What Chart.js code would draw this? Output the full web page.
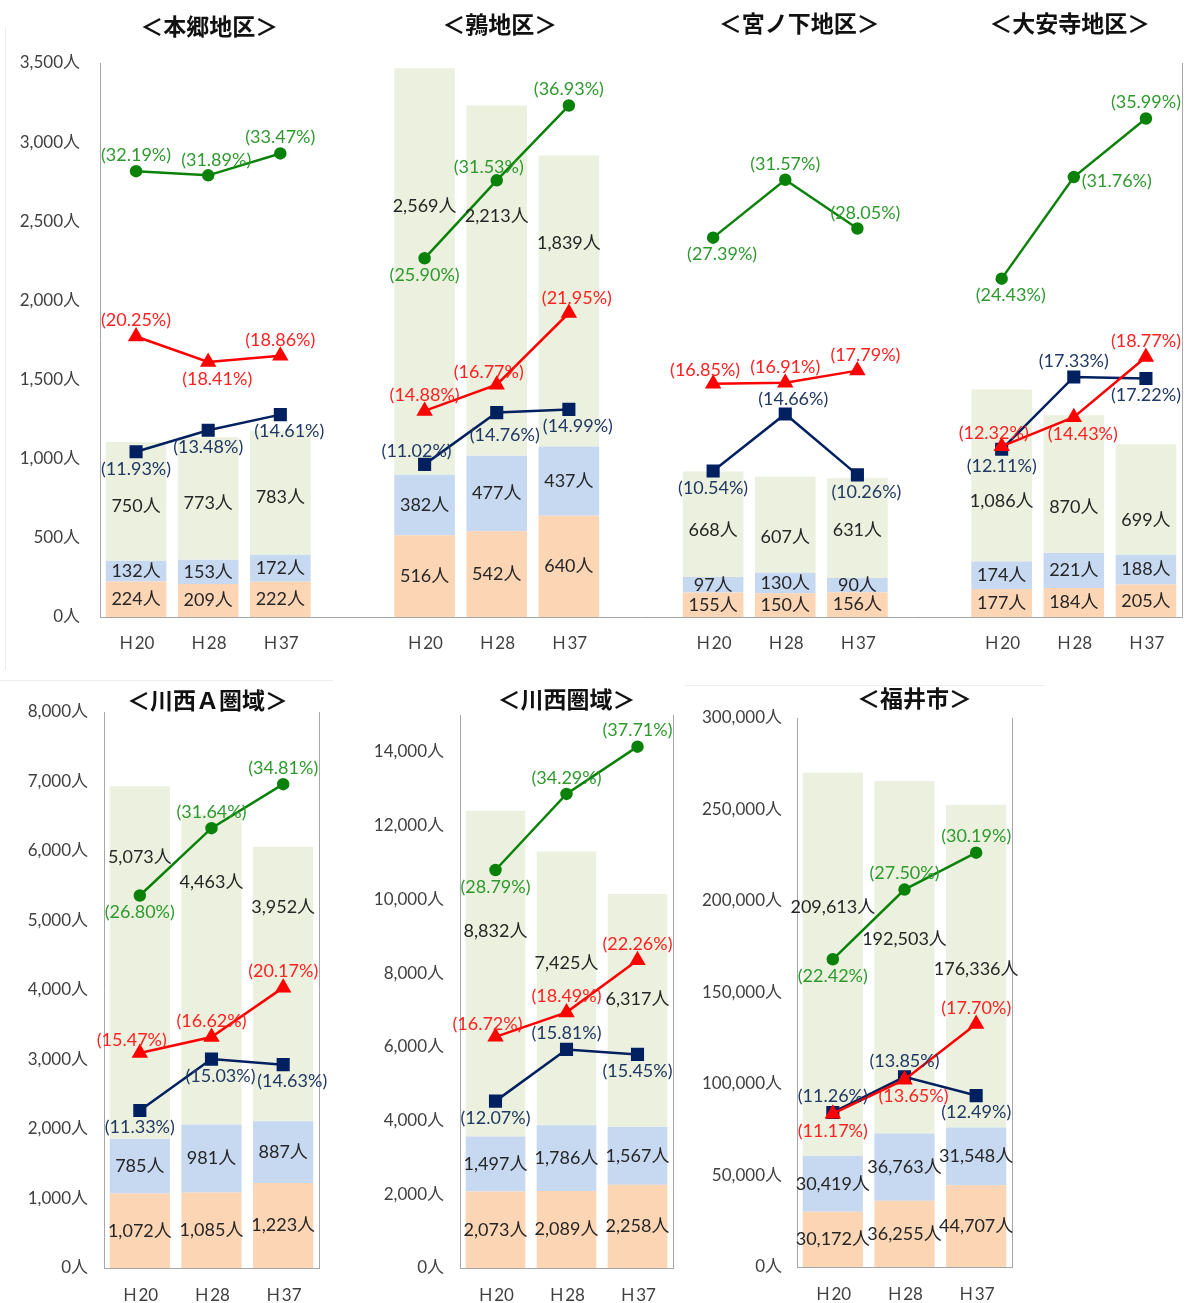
<!DOCTYPE html>
<html lang="ja">
<head>
<meta charset="utf-8">
<title>地区別 高齢者人口と高齢化率</title>
<script src="https://cdn.jsdelivr.net/npm/chart.js@4.4.1/dist/chart.umd.min.js"></script>
<style>
  body { margin: 0; background: #fff; width: 1192px; height: 1303px; position: relative; overflow: hidden; }
  canvas { position: absolute; }
  .frame { position: absolute; background: #ececec; }
</style>
</head>
<body>
<div class="frame" style="left:5px;top:28px;width:1px;height:642px"></div>
<div class="frame" style="left:0;top:680px;width:333px;height:1px"></div>
<div class="frame" style="left:685px;top:685px;width:360px;height:1px"></div>

<canvas id="topChart" width="1192" height="670" style="left:0;top:0"></canvas>
<canvas id="kawanishiAChart" width="335" height="623" style="left:0;top:680px"></canvas>
<canvas id="kawanishiChart" width="345" height="623" style="left:340px;top:680px"></canvas>
<canvas id="fukuiChart" width="345" height="623" style="left:685px;top:680px"></canvas>

<script>
var years = ['Ｈ20', 'Ｈ28', 'Ｈ37'];
var topTitles = ['＜本郷地区＞', '＜鶉地区＞', '＜宮ノ下地区＞', '＜大安寺地区＞'];
var bottomTitles = ['＜川西Ａ圏域＞', '＜川西圏域＞', '＜福井市＞'];

// 本郷地区
var hongoOver75 = [224, 209, 222];
var hongo65to74 = [132, 153, 172];
var hongoUnder65 = [750, 773, 783];
var hongoAgingRate = [32.19, 31.89, 33.47];
var hongoRate75 = [20.25, 18.41, 18.86];
var hongoRate65to74 = [11.93, 13.48, 14.61];

// 鶉地区
var uzuraOver75 = [516, 542, 640];
var uzura65to74 = [382, 477, 437];
var uzuraUnder65 = [2569, 2213, 1839];
var uzuraAgingRate = [25.90, 31.53, 36.93];
var uzuraRate75 = [14.88, 16.77, 21.95];
var uzuraRate65to74 = [11.02, 14.76, 14.99];

// 宮ノ下地区
var miyanoshitaOver75 = [155, 150, 156];
var miyanoshita65to74 = [97, 130, 90];
var miyanoshitaUnder65 = [668, 607, 631];
var miyanoshitaAgingRate = [27.39, 31.57, 28.05];
var miyanoshitaRate75 = [16.85, 16.91, 17.79];
var miyanoshitaRate65to74 = [10.54, 14.66, 10.26];

// 大安寺地区
var daianjiOver75 = [177, 184, 205];
var daianji65to74 = [174, 221, 188];
var daianjiUnder65 = [1086, 870, 699];
var daianjiAgingRate = [24.43, 31.76, 35.99];
var daianjiRate75 = [12.32, 14.43, 18.77];
var daianjiRate65to74 = [12.11, 17.33, 17.22];

// 川西Ａ圏域
var kawanishiAOver75 = [1072, 1085, 1223];
var kawanishiA65to74 = [785, 981, 887];
var kawanishiAUnder65 = [5073, 4463, 3952];
var kawanishiAAgingRate = [26.80, 31.64, 34.81];
var kawanishiARate75 = [15.47, 16.62, 20.17];
var kawanishiARate65to74 = [11.33, 15.03, 14.63];

// 川西圏域
var kawanishiOver75 = [2073, 2089, 2258];
var kawanishi65to74 = [1497, 1786, 1567];
var kawanishiUnder65 = [8832, 7425, 6317];
var kawanishiAgingRate = [28.79, 34.29, 37.71];
var kawanishiRate75 = [16.72, 18.49, 22.26];
var kawanishiRate65to74 = [12.07, 15.81, 15.45];

// 福井市
var fukuiOver75 = [30172, 36255, 44707];
var fukui65to74 = [30419, 36763, 31548];
var fukuiUnder65 = [209613, 192503, 176336];
var fukuiAgingRate = [22.42, 27.50, 30.19];
var fukuiRate75 = [11.17, 13.65, 17.70];
var fukuiRate65to74 = [11.26, 13.85, 12.49];

// ---- styling ----
var FONT = 'Lato, "Noto Sans CJK JP", sans-serif';
var ORANGE = '#fcd5b5', PALE_BLUE = '#c6d9f1', PALE_GREEN = '#ebf1de';
var GREEN = '#0a820a', RED = '#ff0000', NAVY = '#002060';
var GREEN_TXT = '#2e9a2e', RED_TXT = '#ff2222', NAVY_TXT = '#203864';
var AXIS = '#a6a6a6';

// where a percentage label sits relative to its point
var OFF = { a: [0, -16], b: [0, 17], ar: [8, -15], al: [-8, -13], br: [9, 17], bb: [8, 23], r: [43, 4] };

Chart.defaults.font.family = FONT;

function joinAreas(parts, gap) {
  var out = [];
  parts.forEach(function (p, i) {
    if (i) out.push(gap);
    out.push.apply(out, p);
  });
  return out;
}

var valueLabels = {
  id: 'valueLabels',
  afterDatasetsDraw: function (chart) {
    var ctx = chart.ctx;
    ctx.save();
    ctx.font = '18px ' + FONT;
    ctx.textAlign = 'center';
    ctx.textBaseline = 'middle';
    chart.data.datasets.forEach(function (ds, di) {
      var meta = chart.getDatasetMeta(di);
      meta.data.forEach(function (el, i) {
        var v = ds.data[i];
        if (v == null) return;
        if (ds.type === 'line') {
          var off = OFF[ds.labelPos[i]] || OFF.a;
          ctx.fillStyle = ds.labelColor;
          ctx.fillText('(' + v.toFixed(2) + '%)', el.x + off[0], el.y + off[1]);
        } else {
          var f = ds.labelAt ? ds.labelAt[i] : 0.5;
          ctx.fillStyle = '#262626';
          ctx.fillText(v.toLocaleString('en-US') + '人', el.x, el.base + (el.y - el.base) * f);
        }
      });
    });
    ctx.restore();
  }
};

function titlePlugin(items) {
  return {
    id: 'areaTitles',
    afterDraw: function (chart) {
      var ctx = chart.ctx, xs = chart.scales.x;
      ctx.save();
      ctx.font = 'bold 23px "Noto Sans CJK JP"';
      ctx.fillStyle = '#111';
      ctx.textAlign = 'center';
      ctx.textBaseline = 'middle';
      items.forEach(function (t) {
        ctx.fillText(t.text, xs.getPixelForValue(t.index) + t.dx, t.y);
      });
      ctx.restore();
    }
  };
}

function buildChart(id, o) {
  var cv = document.getElementById(id);
  var box = o.box;
  return new Chart(cv.getContext('2d'), {
    type: 'bar',
    data: {
      labels: o.labels,
      datasets: [
        { label: '75歳以上', data: o.over75, backgroundColor: ORANGE, order: 4 },
        { label: '65～74歳', data: o.mid, backgroundColor: PALE_BLUE, order: 4 },
        { label: '65歳未満', data: o.under65, backgroundColor: PALE_GREEN, order: 4, labelAt: o.labelAt },
        { type: 'line', label: '高齢化率', data: o.aging, yAxisID: 'y2', order: 3,
          borderColor: GREEN, backgroundColor: GREEN, borderWidth: 2.5, pointStyle: 'circle', pointRadius: 5,
          labelPos: o.agingPos, labelColor: GREEN_TXT },
        { type: 'line', label: '65～74歳の割合', data: o.rateMid, yAxisID: 'y2', order: 2,
          borderColor: NAVY, backgroundColor: NAVY, borderWidth: 2.5, pointStyle: 'rect', pointRadius: 7.5,
          labelPos: o.midPos, labelColor: NAVY_TXT },
        { type: 'line', label: '75歳以上の割合', data: o.rate75, yAxisID: 'y2', order: 1,
          borderColor: RED, backgroundColor: RED, borderWidth: 2.5, pointStyle: 'triangle', pointRadius: 7,
          labelPos: o.r75Pos, labelColor: RED_TXT }
      ]
    },
    options: {
      responsive: false,
      animation: false,
      devicePixelRatio: 1,
      layout: { padding: { left: 0, top: box.top, right: cv.width - box.right, bottom: 0 } },
      datasets: { bar: { categoryPercentage: 1, barPercentage: 0.84 } },
      plugins: { legend: { display: false }, tooltip: { enabled: false } },
      scales: {
        x: {
          stacked: true,
          grid: { display: false, drawTicks: false },
          border: { color: AXIS },
          ticks: { color: '#404040', font: { size: 17 }, padding: o.xPad, autoSkip: false, maxRotation: 0 },
          afterFit: function (s) { s.height = cv.height - box.bottom; }
        },
        y: {
          stacked: true,
          min: 0,
          max: o.yMax,
          grid: { display: false, drawTicks: false },
          border: { color: AXIS },
          ticks: {
            padding: o.yPad,
            color: '#404040',
            font: { size: 17 },
            callback: function (v) { return v.toLocaleString('en-US') + '人'; }
          },
          // ticks every yStep from 0, even when the axis top is not a multiple of it
          afterBuildTicks: function (a) {
            var t = [];
            for (var v = 0; v <= o.yMax; v += o.yStep) t.push({ value: v });
            a.ticks = t;
          },
          afterFit: function (s) { s.width = box.left; }
        },
        y2: {
          position: 'right',
          min: 0,
          max: 40,
          grid: { display: false, drawTicks: false },
          border: { color: AXIS },
          ticks: { display: false },
          afterFit: function (s) { s.width = 0; }
        }
      }
    },
    plugins: [valueLabels, titlePlugin(o.titles)]
  });
}

// top row: four districts on one shared axis, separated by empty slots
buildChart('topChart', {
  box: { left: 100, right: 1183, top: 63, bottom: 617 },
  labels: joinAreas([years, years, years, years], ''),
  over75: joinAreas([hongoOver75, uzuraOver75, miyanoshitaOver75, daianjiOver75], null),
  mid: joinAreas([hongo65to74, uzura65to74, miyanoshita65to74, daianji65to74], null),
  under65: joinAreas([hongoUnder65, uzuraUnder65, miyanoshitaUnder65, daianjiUnder65], null),
  aging: joinAreas([hongoAgingRate, uzuraAgingRate, miyanoshitaAgingRate, daianjiAgingRate], null),
  rateMid: joinAreas([hongoRate65to74, uzuraRate65to74, miyanoshitaRate65to74, daianjiRate65to74], null),
  rate75: joinAreas([hongoRate75, uzuraRate75, miyanoshitaRate75, daianjiRate75], null),
  labelAt: joinAreas([[0.46, 0.46, 0.46], [0.66, 0.685, 0.70], [0.44, 0.37, 0.48], [0.35, 0.33, 0.31]], null),
  agingPos: joinAreas([['a', 'ar', 'a'], ['b', 'al', 'a'], ['br', 'a', 'ar'], ['br', 'r', 'a']], null),
  r75Pos: joinAreas([['a', 'br', 'a'], ['a', 'al', 'ar'], ['al', 'a', 'ar'], ['al', 'br', 'a']], null),
  midPos: joinAreas([['b', 'b', 'br'], ['al', 'bb', 'br'], ['b', 'ar', 'br'], ['b', 'a', 'b']], null),
  yMax: 3500, yStep: 500, yPad: 20, xPad: 16,
  titles: [
    { text: topTitles[0], index: 1, dx: 1, y: 26 },
    { text: topTitles[1], index: 5, dx: 3, y: 24 },
    { text: topTitles[2], index: 9, dx: 14, y: 23 },
    { text: topTitles[3], index: 13, dx: -4, y: 23 }
  ]
});

buildChart('kawanishiAChart', {
  box: { left: 104, right: 319, top: 32, bottom: 588 },
  labels: years,
  over75: kawanishiAOver75, mid: kawanishiA65to74, under65: kawanishiAUnder65,
  aging: kawanishiAAgingRate, rateMid: kawanishiARate65to74, rate75: kawanishiARate75,
  labelAt: [0.80, 0.78, 0.78],
  agingPos: ['b', 'a', 'a'], r75Pos: ['al', 'a', 'a'], midPos: ['b', 'br', 'br'],
  yMax: 8000, yStep: 1000, yPad: 16, xPad: 17,
  titles: [{ text: bottomTitles[0], index: 1, dx: -4, y: 20 }]
});

buildChart('kawanishiChart', {
  box: { left: 120, right: 333, top: 35, bottom: 588 },
  labels: years,
  over75: kawanishiOver75, mid: kawanishi65to74, under65: kawanishiUnder65,
  aging: kawanishiAgingRate, rateMid: kawanishiRate65to74, rate75: kawanishiRate75,
  labelAt: [0.63, 0.59, 0.55],
  agingPos: ['b', 'a', 'a'], r75Pos: ['al', 'a', 'a'], midPos: ['b', 'a', 'b'],
  yMax: 15000, yStep: 2000, yPad: 16, xPad: 17,
  titles: [{ text: bottomTitles[1], index: 1, dx: 0, y: 19 }]
});

buildChart('fukuiChart', {
  box: { left: 112, right: 327, top: 38, bottom: 587 },
  labels: years,
  over75: fukuiOver75, mid: fukui65to74, under65: fukuiUnder65,
  aging: fukuiAgingRate, rateMid: fukuiRate65to74, rate75: fukuiRate75,
  labelAt: [0.65, 0.55, 0.49],
  agingPos: ['b', 'a', 'a'], r75Pos: ['b', 'br', 'a'], midPos: ['a', 'a', 'b'],
  yMax: 300000, yStep: 50000, yPad: 15, xPad: 17,
  titles: [{ text: bottomTitles[2], index: 1, dx: 10, y: 18 }]
});
</script>
</body>
</html>
